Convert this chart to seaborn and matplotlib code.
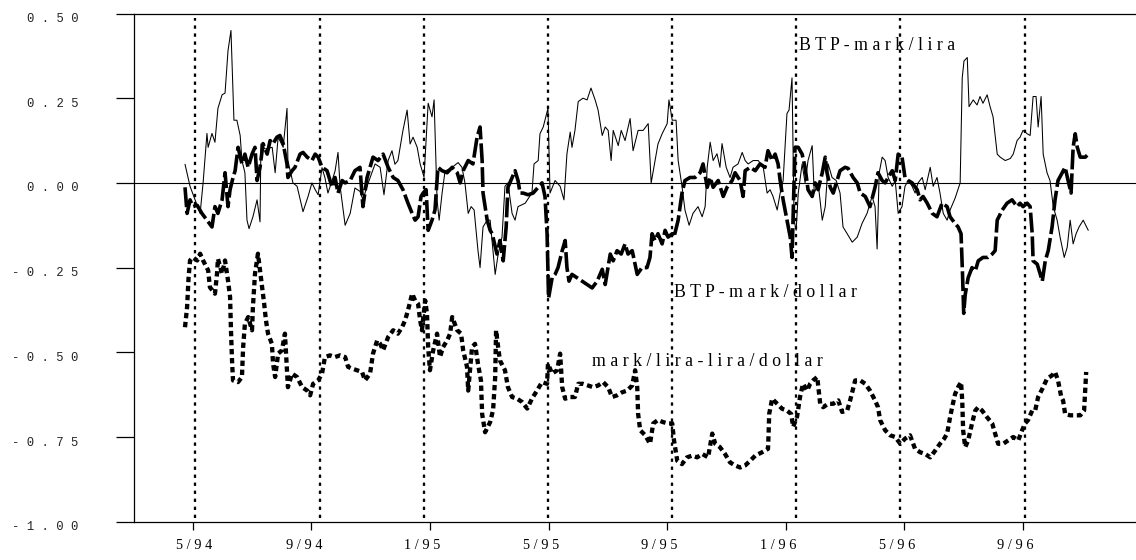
import matplotlib
matplotlib.use("Agg")
import matplotlib.pyplot as plt
import matplotlib.transforms as mtransforms
import pandas as pd
import seaborn as sns

# x values: months since January 1994 (4 = May 1994, 8 = Sep 1994, ...)
lira_month = [3.74, 3.91, 4.08, 4.25, 4.35, 4.48, 4.52, 4.65, 4.75, 4.85,
              4.99, 5.09, 5.19, 5.29, 5.39, 5.49, 5.60, 5.66, 5.76, 5.83,
              5.90, 6.03, 6.17, 6.27, 6.30, 6.44, 6.68, 6.78, 6.88, 7.05,
              7.18, 7.21, 7.38, 7.52, 7.72, 7.89, 8.02, 8.13, 8.23, 8.36,
              8.46, 8.56, 8.70, 8.80, 8.90, 8.97, 9.14, 9.31, 9.47, 9.64,
              9.74, 9.88, 9.98, 10.15, 10.32, 10.45, 10.59, 10.72, 10.82, 10.92,
              11.09, 11.23, 11.33, 11.43, 11.57, 11.67, 11.80, 11.94, 12.07, 12.14,
              12.24, 12.31, 12.41, 12.51, 12.75, 12.95, 13.08, 13.18, 13.29, 13.39,
              13.49, 13.62, 13.69, 13.79, 13.93, 14.03, 14.20, 14.30, 14.43, 14.53,
              14.63, 14.77, 14.87, 14.97, 15.21, 15.44, 15.51, 15.65, 15.71, 15.82,
              15.98, 16.05, 16.22, 16.39, 16.52, 16.62, 16.73, 16.79, 16.89, 17.00,
              17.16, 17.30, 17.43, 17.57, 17.67, 17.81, 17.91, 18.01, 18.11, 18.18,
              18.35, 18.45, 18.58, 18.75, 18.85, 19.02, 19.19, 19.36, 19.46, 19.59,
              19.69, 19.83, 20.00, 20.06, 20.17, 20.30, 20.37, 20.50, 20.60, 20.74,
              20.87, 21.04, 21.18, 21.28, 21.35, 21.45, 21.55, 21.68, 21.78, 21.85,
              21.99, 22.12, 22.22, 22.39, 22.53, 22.63, 22.73, 22.90, 23.07, 23.24,
              23.37, 23.47, 23.57, 23.71, 23.81, 23.91, 24.04, 24.11, 24.21, 24.28,
              24.35, 24.42, 24.55, 24.65, 24.75, 24.89, 24.96, 25.09, 25.23, 25.33,
              25.43, 25.56, 25.70, 25.83, 25.93, 26.07, 26.24, 26.41, 26.57, 26.74,
              26.91, 27.01, 27.08, 27.15, 27.25, 27.35, 27.45, 27.59, 27.69, 27.79,
              27.92, 28.02, 28.13, 28.26, 28.36, 28.46, 28.60, 28.70, 28.87, 28.97,
              29.10, 29.20, 29.31, 29.44, 29.54, 29.71, 29.88, 29.95, 30.01, 30.12,
              30.18, 30.32, 30.45, 30.55, 30.65, 30.79, 30.89, 30.99, 31.13, 31.23,
              31.40, 31.57, 31.67, 31.80, 31.90, 32.00, 32.14, 32.24, 32.34, 32.44,
              32.51, 32.61, 32.68, 32.81, 32.91, 33.02, 33.15, 33.25, 33.39, 33.49,
              33.59, 33.69, 33.79, 33.89, 34.03, 34.20]
lira_value = [0.055, -0.01, -0.05, -0.09, 0.0, 0.146, 0.105, 0.146, 0.12, 0.22,
              0.26, 0.265, 0.39, 0.45, 0.185, 0.185, 0.14, 0.066, 0.03, -0.11,
              -0.135, -0.10, -0.05, -0.115, 0.115, 0.10, 0.105, 0.03, 0.135, 0.105,
              0.22, 0.066, 0.0, -0.01, -0.085, -0.04, 0.0, -0.02, -0.035, 0.045,
              0.015, -0.03, 0.007, 0.035, 0.09, -0.01, -0.125, -0.09, -0.015, -0.025,
              -0.05, -0.01, 0.015, 0.056, 0.046, -0.035, 0.066, 0.095, 0.055, 0.066,
              0.155, 0.215, 0.115, 0.135, 0.105, 0.056, 0.017, 0.235, 0.195, 0.245,
              -0.05, -0.11, -0.03, 0.035, 0.046, 0.06, 0.046, 0.0, -0.09, -0.07,
              -0.08, -0.20, -0.25, -0.13, -0.11, -0.11, -0.27, -0.21, -0.16, -0.01,
              0.0, -0.09, -0.11, -0.07, -0.06, -0.03, 0.056, 0.066, 0.145, 0.165,
              0.22, -0.03, 0.007, -0.01, -0.05, 0.086, 0.15, 0.105, 0.155, 0.24,
              0.25, 0.245, 0.28, 0.245, 0.215, 0.14, 0.165, 0.155, 0.066, 0.155,
              0.11, 0.155, 0.125, 0.19, 0.095, 0.155, 0.155, 0.175, 0.0, 0.066,
              0.115, 0.145, 0.175, 0.245, 0.185, 0.185, 0.066, -0.01, -0.08, -0.125,
              -0.09, -0.07, -0.10, -0.07, 0.046, 0.12, 0.066, 0.086, 0.046, 0.116,
              0.046, 0.016, 0.046, 0.056, 0.09, 0.066, 0.056, 0.066, 0.066, 0.046,
              -0.03, -0.02, -0.04, -0.08, -0.03, 0.007, 0.205, 0.215, 0.31, -0.11,
              -0.14, -0.03, 0.056, 0.0, 0.066, 0.11, -0.03, 0.0, -0.11, -0.07,
              0.056, 0.016, 0.007, -0.03, -0.13, -0.15, -0.175, -0.16, -0.12, -0.09,
              -0.04, -0.07, -0.195, 0.03, 0.076, 0.066, 0.016, -0.01, 0.007, -0.09,
              -0.07, -0.01, 0.007, -0.01, -0.03, 0.0, 0.016, -0.02, 0.046, -0.01,
              0.016, -0.03, -0.09, -0.11, -0.08, -0.045, 0.0, 0.31, 0.36, 0.37,
              0.225, 0.245, 0.23, 0.255, 0.235, 0.26, 0.225, 0.195, 0.085, 0.076,
              0.066, 0.072, 0.085, 0.125, 0.135, 0.155, 0.145, 0.14, 0.255, 0.255,
              0.165, 0.255, 0.085, 0.03, 0.007, -0.07, -0.11, -0.16, -0.22, -0.19,
              -0.11, -0.18, -0.15, -0.13, -0.11, -0.14]

dollar_month = [3.74, 3.81, 3.91, 4.01, 4.15, 4.31, 4.48, 4.65, 4.75, 4.85,
                4.99, 5.09, 5.19, 5.26, 5.36, 5.43, 5.53, 5.66, 5.76, 5.87,
                6.00, 6.10, 6.17, 6.27, 6.37, 6.51, 6.61, 6.71, 6.84, 6.94,
                7.05, 7.18, 7.21, 7.35, 7.45, 7.62, 7.72, 7.86, 8.02, 8.13,
                8.23, 8.36, 8.53, 8.70, 8.80, 8.90, 9.04, 9.14, 9.31, 9.47,
                9.64, 9.74, 9.88, 9.98, 10.08, 10.25, 10.42, 10.59, 10.76, 10.92,
                11.09, 11.26, 11.40, 11.50, 11.60, 11.70, 11.77, 11.87, 11.94, 12.07,
                12.17, 12.27, 12.41, 12.58, 12.75, 12.92, 13.02, 13.12, 13.29, 13.45,
                13.59, 13.69, 13.76, 13.79, 13.93, 14.03, 14.10, 14.26, 14.36, 14.47,
                14.57, 14.63, 14.77, 14.87, 14.97, 15.04, 15.14, 15.31, 15.48, 15.65,
                15.78, 15.88, 15.95, 15.98, 16.00, 16.12, 16.22, 16.32, 16.46, 16.56,
                16.62, 16.69, 16.79, 16.96, 17.13, 17.30, 17.47, 17.64, 17.81, 17.91,
                18.08, 18.18, 18.31, 18.45, 18.58, 18.68, 18.82, 18.99, 19.15, 19.32,
                19.42, 19.49, 19.59, 19.69, 19.83, 19.93, 20.03, 20.17, 20.23, 20.37,
                20.50, 20.60, 20.77, 20.94, 21.11, 21.21, 21.35, 21.45, 21.55, 21.72,
                21.89, 22.02, 22.19, 22.29, 22.46, 22.56, 22.63, 22.80, 22.97, 23.13,
                23.30, 23.40, 23.54, 23.64, 23.74, 23.81, 23.91, 24.04, 24.15, 24.21,
                24.31, 24.42, 24.55, 24.65, 24.75, 24.89, 24.99, 25.09, 25.23, 25.33,
                25.39, 25.50, 25.60, 25.73, 25.83, 26.00, 26.10, 26.27, 26.41, 26.51,
                26.68, 26.84, 27.01, 27.11, 27.25, 27.35, 27.45, 27.59, 27.69, 27.79,
                27.92, 28.02, 28.13, 28.26, 28.43, 28.53, 28.63, 28.77, 28.94, 29.10,
                29.27, 29.44, 29.54, 29.71, 29.81, 29.91, 29.96, 30.00, 30.05, 30.15,
                30.28, 30.39, 30.49, 30.65, 30.82, 30.96, 31.06, 31.13, 31.30, 31.46,
                31.63, 31.80, 31.90, 32.00, 32.14, 32.24, 32.31, 32.34, 32.48, 32.58,
                32.65, 32.75, 32.85, 32.98, 33.08, 33.18, 33.32, 33.42, 33.52, 33.62,
                33.69, 33.76, 33.83, 33.93, 34.10, 34.20]
dollar_value = [-0.013, -0.09, -0.05, -0.07, -0.066, -0.09, -0.11, -0.13, -0.07, -0.09,
                -0.05, 0.03, -0.07, -0.02, 0.016, 0.036, 0.105, 0.056, 0.085, 0.046,
                0.085, 0.105, 0.007, 0.046, 0.116, 0.085, 0.125, 0.116, 0.135, 0.14,
                0.116, 0.056, 0.016, 0.036, 0.046, 0.085, 0.09, 0.076, 0.066, 0.085,
                0.076, 0.046, 0.036, -0.013, 0.016, -0.03, 0.007, 0.0, 0.007, 0.036,
                0.046, -0.07, 0.016, 0.046, 0.076, 0.066, 0.085, 0.046, 0.016, 0.007,
                -0.02, -0.06, -0.09, -0.11, -0.10, -0.04, -0.03, -0.02, -0.14, -0.11,
                -0.08, 0.046, 0.036, 0.03, 0.046, 0.03, 0.0, 0.036, 0.066, 0.056,
                0.135, 0.165, 0.066, -0.03, -0.11, -0.14, -0.15, -0.21, -0.17, -0.23,
                -0.13, -0.013, 0.016, 0.036, 0.007, -0.03, -0.03, -0.035, -0.03, -0.013,
                0.0, -0.04, -0.15, -0.27, -0.34, -0.28, -0.27, -0.25, -0.20, -0.17,
                -0.25, -0.29, -0.27, -0.28, -0.29, -0.30, -0.31, -0.29, -0.255, -0.30,
                -0.21, -0.23, -0.20, -0.21, -0.18, -0.21, -0.20, -0.27, -0.25, -0.25,
                -0.22, -0.15, -0.17, -0.15, -0.18, -0.14, -0.16, -0.15, -0.16, -0.11,
                -0.03, 0.007, 0.016, 0.016, 0.03, 0.056, -0.013, 0.016, -0.013, 0.007,
                -0.04, -0.013, 0.007, 0.03, 0.007, -0.04, 0.036, 0.046, 0.036, 0.056,
                0.046, 0.095, 0.066, 0.085, 0.056, 0.007, -0.05, -0.11, -0.16, -0.22,
                0.105, 0.105, 0.085, 0.046, -0.02, -0.04, 0.0, -0.02, 0.03, 0.076,
                0.03, -0.013, -0.03, 0.007, 0.036, 0.046, 0.043, 0.016, 0.0, -0.03,
                -0.04, -0.07, -0.013, 0.03, 0.007, 0.0, 0.016, 0.036, 0.007, 0.085,
                0.076, 0.016, 0.007, 0.0, -0.02, -0.05, -0.04, -0.06, -0.09, -0.10,
                -0.06, -0.07, -0.10, -0.12, -0.13, -0.15, -0.27, -0.385, -0.33, -0.28,
                -0.25, -0.26, -0.23, -0.22, -0.22, -0.21, -0.20, -0.11, -0.08, -0.06,
                -0.05, -0.07, -0.06, -0.07, -0.06, -0.07, -0.15, -0.23, -0.24, -0.27,
                -0.29, -0.23, -0.20, -0.13, -0.05, 0.007, 0.03, 0.046, 0.007, -0.03,
                0.105, 0.145, 0.105, 0.076, 0.076, 0.085]

cross_month = [3.74, 3.81, 3.84, 3.86, 3.91, 4.01, 4.15, 4.25, 4.35, 4.52,
               4.58, 4.75, 4.82, 4.85, 4.99, 5.09, 5.19, 5.26, 5.29, 5.33,
               5.36, 5.53, 5.66, 5.70, 5.76, 5.87, 6.00, 6.03, 6.10, 6.20,
               6.27, 6.34, 6.41, 6.47, 6.54, 6.67, 6.71, 6.78, 6.88, 7.01,
               7.11, 7.18, 7.21, 7.35, 7.52, 7.69, 7.86, 7.96, 8.06, 8.23,
               8.36, 8.46, 8.63, 8.80, 8.97, 9.14, 9.24, 9.37, 9.54, 9.71,
               9.81, 9.98, 10.08, 10.22, 10.32, 10.42, 10.59, 10.76, 10.92, 11.06,
               11.16, 11.26, 11.40, 11.50, 11.60, 11.67, 11.73, 11.84, 11.90, 11.94,
               12.00, 12.11, 12.24, 12.34, 12.44, 12.58, 12.68, 12.75, 12.92, 13.05,
               13.12, 13.25, 13.29, 13.42, 13.52, 13.62, 13.72, 13.76, 13.86, 14.03,
               14.13, 14.20, 14.23, 14.30, 14.36, 14.53, 14.63, 14.77, 14.94, 15.11,
               15.28, 15.44, 15.61, 15.78, 15.95, 15.98, 16.12, 16.29, 16.39, 16.46,
               16.56, 16.73, 16.89, 17.00, 17.16, 17.33, 17.50, 17.67, 17.84, 18.01,
               18.14, 18.31, 18.48, 18.65, 18.82, 18.92, 18.99, 19.02, 19.09, 19.26,
               19.42, 19.53, 19.69, 19.86, 20.03, 20.17, 20.23, 20.34, 20.50, 20.67,
               20.84, 21.01, 21.18, 21.38, 21.52, 21.62, 21.78, 21.95, 22.12, 22.29,
               22.46, 22.63, 22.80, 22.97, 23.20, 23.40, 23.42, 23.44, 23.54, 23.71,
               23.88, 24.04, 24.18, 24.25, 24.38, 24.48, 24.58, 24.72, 24.82, 24.92,
               25.06, 25.16, 25.26, 25.43, 25.60, 25.77, 25.90, 26.07, 26.17, 26.34,
               26.51, 26.68, 26.84, 27.01, 27.11, 27.18, 27.35, 27.52, 27.69, 27.86,
               28.02, 28.19, 28.36, 28.53, 28.70, 28.87, 29.04, 29.20, 29.34, 29.44,
               29.54, 29.61, 29.71, 29.81, 29.91, 29.95, 29.98, 30.05, 30.15, 30.28,
               30.39, 30.49, 30.62, 30.79, 30.96, 31.06, 31.16, 31.33, 31.50, 31.67,
               31.84, 31.97, 32.07, 32.17, 32.31, 32.41, 32.51, 32.65, 32.81, 32.98,
               33.08, 33.18, 33.29, 33.35, 33.42, 33.59, 33.76, 33.93, 34.06, 34.09,
               34.13]
cross_value = [-0.426, -0.367, -0.317, -0.28, -0.229, -0.22, -0.229, -0.209, -0.229, -0.258,
               -0.308, -0.327, -0.268, -0.224, -0.268, -0.229, -0.288, -0.337, -0.435, -0.534,
               -0.583, -0.588, -0.573, -0.485, -0.416, -0.396, -0.435, -0.367, -0.268, -0.209,
               -0.258, -0.308, -0.357, -0.406, -0.445, -0.475, -0.534, -0.573, -0.504, -0.494,
               -0.445, -0.553, -0.603, -0.563, -0.573, -0.603, -0.613, -0.627, -0.593, -0.583,
               -0.563, -0.514, -0.509, -0.514, -0.509, -0.514, -0.543, -0.548, -0.553, -0.558,
               -0.583, -0.563, -0.504, -0.465, -0.475, -0.494, -0.455, -0.435, -0.445, -0.426,
               -0.406, -0.376, -0.327, -0.347, -0.357, -0.406, -0.435, -0.347, -0.386, -0.485,
               -0.553, -0.494, -0.445, -0.514, -0.485, -0.465, -0.445, -0.396, -0.435, -0.445,
               -0.494, -0.543, -0.613, -0.485, -0.475, -0.534, -0.583, -0.682, -0.736, -0.706,
               -0.67, -0.573, -0.435, -0.485, -0.524, -0.553, -0.603, -0.632, -0.637, -0.647,
               -0.666, -0.637, -0.613, -0.588, -0.593, -0.534, -0.563, -0.553, -0.504, -0.603,
               -0.637, -0.632, -0.632, -0.593, -0.593, -0.598, -0.603, -0.598, -0.588, -0.603,
               -0.632, -0.627, -0.618, -0.613, -0.598, -0.553, -0.603, -0.682, -0.73, -0.745,
               -0.77, -0.71, -0.70, -0.706, -0.71, -0.71, -0.76, -0.82, -0.83, -0.81,
               -0.805, -0.81, -0.80, -0.81, -0.74, -0.77, -0.78, -0.80, -0.825, -0.834,
               -0.84, -0.834, -0.82, -0.805, -0.795, -0.785, -0.74, -0.682, -0.637, -0.652,
               -0.667, -0.672, -0.682, -0.72, -0.69, -0.632, -0.593, -0.613, -0.593, -0.583,
               -0.573, -0.652, -0.662, -0.652, -0.652, -0.642, -0.676, -0.672, -0.642, -0.583,
               -0.583, -0.593, -0.613, -0.642, -0.662, -0.70, -0.73, -0.745, -0.75, -0.77,
               -0.755, -0.745, -0.785, -0.795, -0.80, -0.81, -0.79, -0.77, -0.755, -0.74,
               -0.692, -0.662, -0.623, -0.603, -0.588, -0.642, -0.73, -0.78, -0.76, -0.71,
               -0.672, -0.662, -0.672, -0.692, -0.71, -0.74, -0.77, -0.77, -0.76, -0.75,
               -0.76, -0.73, -0.71, -0.70, -0.672, -0.672, -0.632, -0.608, -0.578, -0.568,
               -0.558, -0.583, -0.632, -0.642, -0.682, -0.686, -0.686, -0.686, -0.672, -0.623,
               -0.558]

event_months = [4.09, 8.29, 11.80, 15.97, 20.17, 24.34, 27.86, 32.05]
tick_months = [4, 8, 12, 16, 20, 24, 28, 32]
tick_labels = ["5/94", "9/94", "1/95", "5/95", "9/95", "1/96", "5/96", "9/96"]
y_ticks = [0.5, 0.25, 0.0, -0.25, -0.5, -0.75, -1.0]
series_names = ["BTP-mark/lira", "BTP-mark/dollar", "mark/lira-lira/dollar"]

sns.set_theme(style="ticks")
plt.rcParams["font.family"] = ["Liberation Serif", "DejaVu Serif"]

fig = plt.figure(figsize=(11.36, 5.6), dpi=100)
ax = fig.add_axes([134 / 1136, 38.3 / 560, 1002 / 1136, 508.2 / 560])

df_lira = pd.DataFrame({"month": lira_month, "value": lira_value})
df_dollar = pd.DataFrame({"month": dollar_month, "value": dollar_value})
df_cross = pd.DataFrame({"month": cross_month, "value": cross_value})

common = dict(x="month", y="value", ax=ax, color="black", estimator=None,
              sort=False, errorbar=None, legend=False)
sns.lineplot(data=df_cross, linewidth=3.1, linestyle=(0, (1.25, 0.85)),
             dash_capstyle="butt", zorder=3, **common)
sns.lineplot(data=df_dollar, linewidth=2.6, linestyle=(0, (5.5, 1.1)),
             dash_capstyle="butt", zorder=4, **common)
sns.lineplot(data=df_lira, linewidth=0.75, zorder=5, **common)

ax.axhline(0, color="black", linewidth=0.8, zorder=2)
ax.vlines(event_months, -0.99, 0.486, colors="black", linewidth=1.65,
          linestyles=[(0, (1.45, 2.05))], zorder=2)

ax.set_xlim(2.02, 35.81)
ax.set_ylim(-1.0, 0.5)
ax.set_xlabel("")
ax.set_ylabel("")

ax.set_xticks(tick_months, labels=[" ".join(t) for t in tick_labels])
ax.set_yticks(y_ticks, labels=[" ".join(f"{v:.2f}") for v in y_ticks])

for side in ["left", "top", "bottom"]:
    ax.spines[side].set_visible(True)
    ax.spines[side].set_color("black")
    ax.spines[side].set_linewidth(0.9)
ax.spines["right"].set_visible(False)

ax.tick_params(axis="y", direction="out", length=13, width=0.9, pad=27,
               labelsize=8.8, colors="black", left=True, right=False)
ax.tick_params(axis="x", direction="out", length=6, width=0.9, pad=6.5,
               labelsize=10.3, colors="black", bottom=True, top=False)

for lab in ax.get_yticklabels():
    lab.set_family(["Liberation Mono", "DejaVu Sans Mono"])
    lab.set_color("#222222")
    lab.set_transform(lab.get_transform() +
                      mtransforms.ScaledTranslation(0, -4 / 100, fig.dpi_scale_trans))
for i, lab in enumerate(ax.get_xticklabels()):
    lab.set_family(["Liberation Serif", "DejaVu Serif"])
    dx = 1.3 if i == 0 else -7.5
    lab.set_transform(lab.get_transform() +
                      mtransforms.ScaledTranslation(dx / 100, 0, fig.dpi_scale_trans))

label_font = dict(fontsize=12.8, family=["Liberation Serif", "DejaVu Serif"],
                  color="black", va="baseline", ha="left")
ax.text(24.46, 0.391, " ".join(series_names[0]), **label_font)
ax.text(20.24, -0.338, " ".join(series_names[1]), **label_font)
ax.text(17.46, -0.539, " ".join(series_names[2]), **label_font)

fig.savefig("out.png", dpi=100, facecolor="white")
